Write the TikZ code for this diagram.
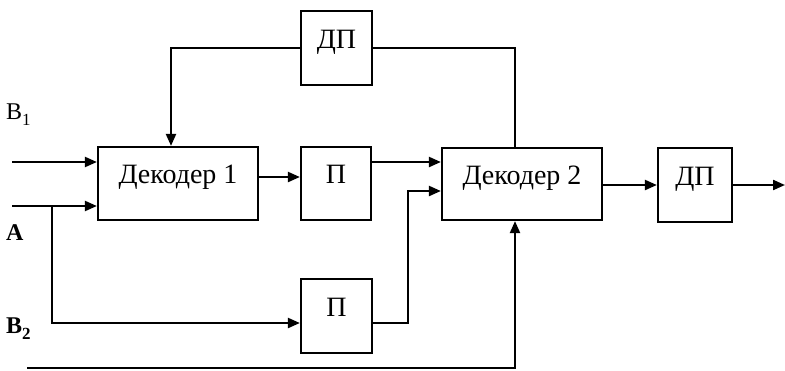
\documentclass[tikz,border=0pt]{standalone}
\usepackage{fontspec}
\setmainfont{Liberation Serif}
\usetikzlibrary{arrows.meta}
\tikzset{
  blk/.style={draw, line width=2.2pt, inner sep=0pt, font=\fontsize{28}{30}\selectfont,
              text height=13pt, text depth=13pt},
  lbl/.style={anchor=base west, inner sep=0pt, font=\fontsize{24}{26}\selectfont},
  wire/.style={line width=2.2pt},
  sig/.style={wire, -{Triangle[length=12pt,width=10pt]}}
}
\begin{document}
\begin{tikzpicture}[x=1pt,y=-1pt]
\useasboundingbox (0,0) rectangle (785,370);

% blocks
\node[blk, minimum width=160pt, minimum height=73pt] (dec1) at (178,183.5) {Декодер 1};
\node[blk, minimum width=70pt,  minimum height=73pt] (p1)   at (336,183.5) {П};
\node[blk, minimum width=71pt,  minimum height=74pt] (dp1)  at (336.5,48) {ДП};
\node[blk, minimum width=160pt, minimum height=72pt] (dec2) at (522,184) {Декодер 2};
\node[blk, minimum width=74pt,  minimum height=74pt] (dp2)  at (695,185) {ДП};
\node[blk, minimum width=71pt,  minimum height=74pt] (p2)   at (336.5,316) {П};

% input labels
\node[lbl] (lb1) at (6,119) {В\raisebox{-0.25em}{\fontsize{17}{19}\selectfont 1}};
\node[lbl] (la)  at (6,240) {\bfseries А};
\node[lbl] (lb2) at (6,333) {\bfseries В\raisebox{-0.25em}{\fontsize{17}{19}\selectfont 2}};

% free ends and bends
\coordinate (i1) at (12,162);
\coordinate (i2) at (12,206);
\coordinate (br) at (52,206);
\coordinate (i3) at (27,368);
\coordinate (out) at (785,185);
\coordinate (up) at (515,48);
\coordinate (fb) at (171,48);
\coordinate (j2) at (408,323);

% connectors
\draw[sig] (i1) -- (i1 -| dec1.west);
\draw[sig] (i2) -- (i2 -| dec1.west);
\draw[sig] (br) -- (br |- 0,323) -- (0,323 -| p2.west);
\draw[sig] (dec1.east |- 0,177) -- (p1.west |- 0,177);
\draw[sig] (p1.east |- 0,162) -- (dec2.west |- 0,162);
\draw[sig] (p2.east |- j2) -- (j2) -- (j2 |- 0,191) -- (dec2.west |- 0,191);
\draw[sig] (i3) -- (i3 -| up) -- (up |- dec2.south);
\draw[wire] (up |- dec2.north) -- (up) -- (dp1.east |- up);
\draw[sig] (dp1.west |- fb) -- (fb) -- (fb |- dec1.north);
\draw[sig] (dec2.east |- out) -- (dp2.west |- out);
\draw[sig] (dp2.east |- out) -- (out);
\end{tikzpicture}
\end{document}
